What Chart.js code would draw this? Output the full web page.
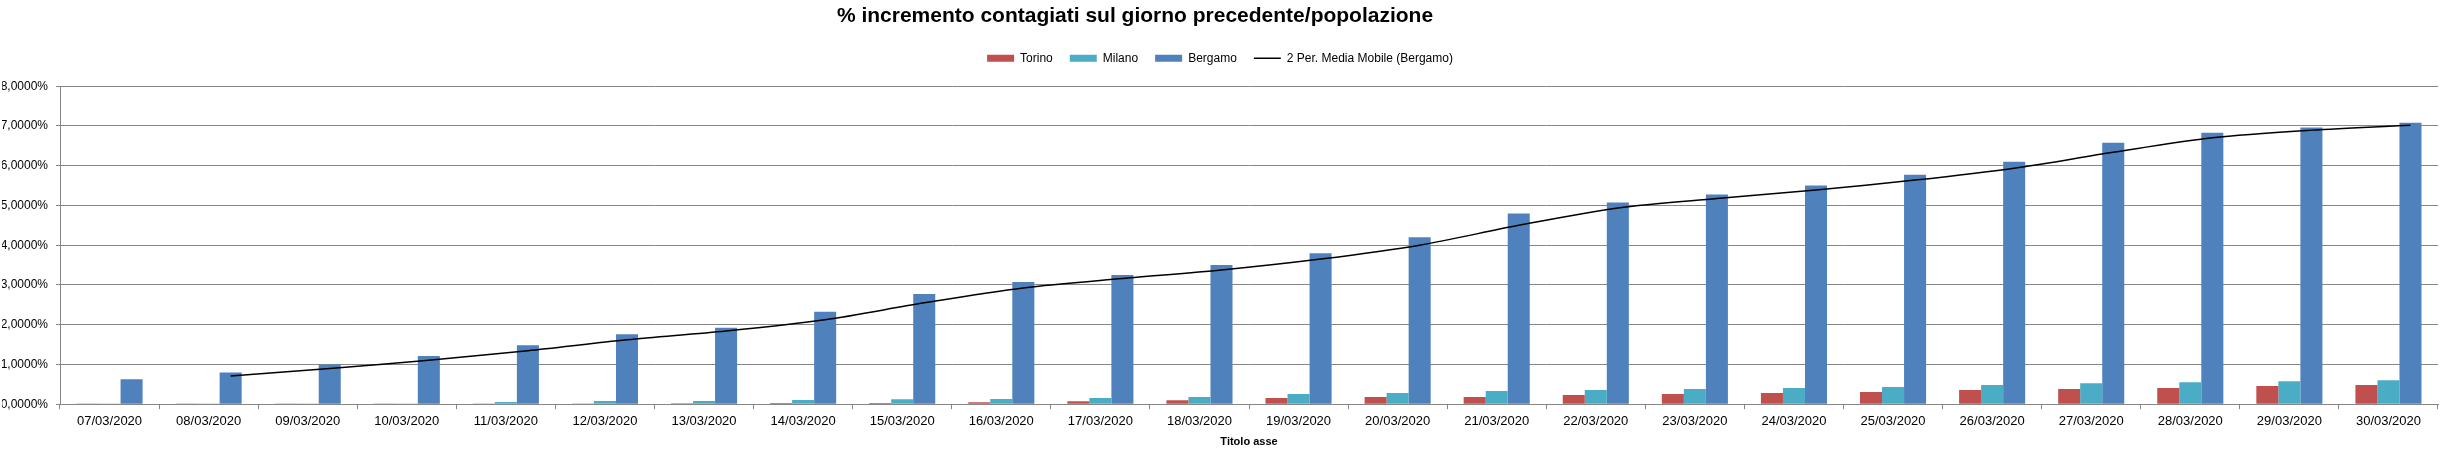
<!DOCTYPE html>
<html lang="it">
<head>
    <meta charset="UTF-8">
    <title>% incremento contagiati sul giorno precedente/popolazione</title>
    <script src="https://cdn.jsdelivr.net/npm/chart.js"></script>
    <style>
        html, body { margin: 0; padding: 0; background: #fff; }
    </style>
</head>
<body>
    <canvas id="contagiChart" width="2447" height="459"></canvas>
    <script>
        // dati (valori in %)
        const giorni = ['07/03/2020', '08/03/2020', '09/03/2020', '10/03/2020', '11/03/2020', '12/03/2020',
            '13/03/2020', '14/03/2020', '15/03/2020', '16/03/2020', '17/03/2020', '18/03/2020',
            '19/03/2020', '20/03/2020', '21/03/2020', '22/03/2020', '23/03/2020', '24/03/2020',
            '25/03/2020', '26/03/2020', '27/03/2020', '28/03/2020', '29/03/2020', '30/03/2020'];

        const torino = [0.02, 0.02, 0.02, 0.02, 0.02, 0.02, 0.025, 0.03, 0.03, 0.05, 0.075, 0.1,
            0.155, 0.18, 0.18, 0.23, 0.255, 0.28, 0.305, 0.355, 0.38, 0.405, 0.455, 0.48];

        const milano = [0.02, 0.02, 0.02, 0.02, 0.055, 0.08, 0.08, 0.105, 0.125, 0.128, 0.155, 0.18,
            0.255, 0.28, 0.33, 0.355, 0.38, 0.405, 0.43, 0.48, 0.53, 0.555, 0.58, 0.605];

        const bergamo = [0.625, 0.8, 1.0, 1.21, 1.485, 1.76, 1.925, 2.325, 2.775, 3.075, 3.25, 3.5,
            3.8, 4.2, 4.8, 5.075, 5.275, 5.5, 5.775, 6.1, 6.575, 6.83, 6.96, 7.08];

        const mediaMobile = [null, 0.7125, 0.9, 1.105, 1.3475, 1.6225, 1.8425, 2.125, 2.55, 2.925, 3.1625, 3.375,
            3.65, 4.0, 4.5, 4.9375, 5.175, 5.3875, 5.6375, 5.9375, 6.3375, 6.7025, 6.895, 7.02];

        const yTicks = [0, 1, 2, 3, 4, 5, 6, 7, 8];

        const FONT = "'Liberation Sans', Arial, sans-serif";

        // la linea di tendenza di Excel sta sopra la barra di Bergamo, non al centro della categoria
        const alignTrend = {
            id: 'alignTrend',
            beforeDatasetDraw(chart, args) {
                if (args.index !== 3) return;
                const bar = chart.getDatasetMeta(2).data[0];
                const dx = bar.x - chart.scales.x.getPixelForValue(0);
                chart.ctx.save();
                chart.ctx.translate(dx, 0);
            },
            afterDatasetDraw(chart, args) {
                if (args.index === 3) chart.ctx.restore();
            }
        };

        // il titolo non è centrato sull'intero grafico; spazio in più sotto la legenda
        const headerTweaks = {
            id: 'headerTweaks',
            afterInit(chart, args, opts) {
                const legend = chart.legend;
                const fit = legend.fit;
                legend.fit = function () {
                    fit.call(this);
                    this.height += opts.legendGap;
                };
            },
            afterLayout(chart, args, opts) {
                const t = chart.titleBlock;
                if (!t) return;
                t.left += opts.titleDx;
                t.right += opts.titleDx;
            }
        };

        const ctx = document.getElementById('contagiChart').getContext('2d');
        new Chart(ctx, {
            type: 'bar',
            data: {
                labels: giorni,
                datasets: [{
                    label: 'Torino',
                    data: torino,
                    backgroundColor: '#C0504D',
                    pointStyle: 'rect'
                }, {
                    label: 'Milano',
                    data: milano,
                    backgroundColor: '#4BACC6',
                    pointStyle: 'rect'
                }, {
                    label: 'Bergamo',
                    data: bergamo,
                    backgroundColor: '#4F81BD',
                    pointStyle: 'rect'
                }, {
                    type: 'line',
                    label: '2 Per. Media Mobile (Bergamo)',
                    data: mediaMobile,
                    borderColor: '#000',
                    backgroundColor: '#000',
                    borderWidth: 1.5,
                    pointRadius: 0,
                    pointStyle: 'line',
                    tension: 0.3,
                    fill: false,
                    order: -1
                }]
            },
            options: {
                responsive: false,
                animation: false,
                datasets: {
                    bar: { categoryPercentage: 0.667, barPercentage: 1.0, borderWidth: 0 }
                },
                layout: { padding: { left: 2, right: 9, top: 2, bottom: 10 } },
                plugins: {
                    title: {
                        display: true,
                        text: '% incremento contagiati sul giorno precedente/popolazione',
                        color: '#000',
                        font: { family: FONT, size: 21, weight: 'bold' },
                        padding: { top: 2, bottom: 6 }
                    },
                    headerTweaks: { titleDx: -85, legendGap: 12 },
                    legend: {
                        position: 'top',
                        labels: {
                            usePointStyle: true,
                            pointStyleWidth: 27,
                            boxHeight: 7,
                            padding: 17,
                            color: '#000',
                            font: { family: FONT, size: 12 },
                            sort: (a, b) => a.datasetIndex - b.datasetIndex
                        }
                    },
                    tooltip: { enabled: false }
                },
                scales: {
                    x: {
                        grid: { drawOnChartArea: false, drawTicks: true, tickLength: 5, color: '#868686' },
                        border: { color: '#868686' },
                        ticks: {
                            color: '#000',
                            font: { family: FONT, size: 13 },
                            maxRotation: 0,
                            autoSkip: false,
                            padding: 4
                        },
                        title: {
                            display: true,
                            text: 'Titolo asse',
                            color: '#000',
                            font: { family: FONT, size: 11, weight: 'bold' },
                            padding: { top: 3, bottom: 0 }
                        }
                    },
                    y: {
                        min: 0,
                        max: 8,
                        afterBuildTicks: (scale) => { scale.ticks = yTicks.map(v => ({ value: v })); },
                        afterFit: (scale) => { scale.width = 58; },
                        grid: { color: '#868686', tickLength: 4 },
                        border: { color: '#868686' },
                        ticks: {
                            color: '#000',
                            font: { family: FONT, size: 12 },
                            padding: 8,
                            callback: (v) => v.toFixed(4).replace('.', ',') + '%'
                        }
                    }
                }
            },
            plugins: [alignTrend, headerTweaks]
        });
    </script>
</body>
</html>
